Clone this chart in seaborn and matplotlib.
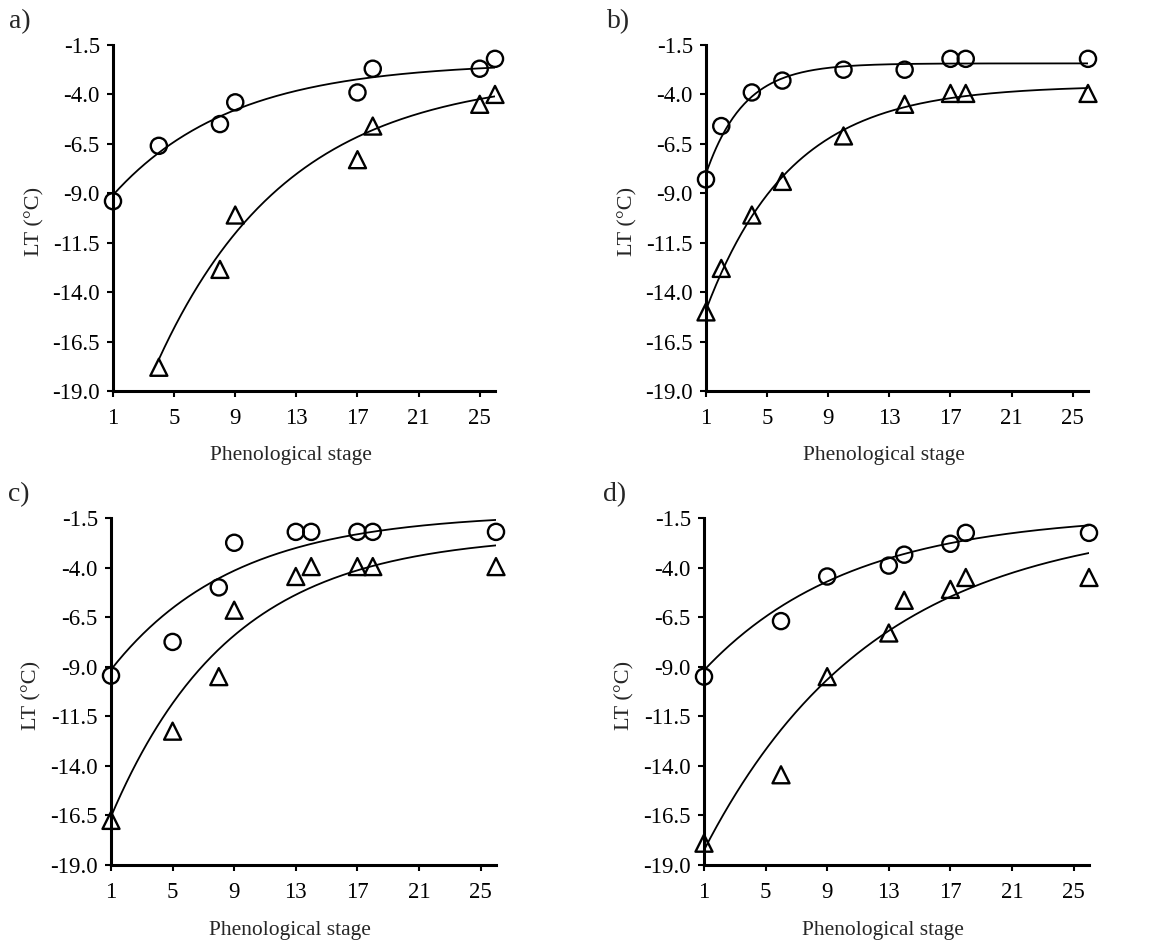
import numpy as np
import matplotlib
matplotlib.use("Agg")
import matplotlib.pyplot as plt
import seaborn as sns

# ---------------- data ----------------
panel_labels = ["a)", "b)", "c)", "d)"]

a_x_circ = [1, 4, 8, 9, 17, 18, 25, 26]
a_y_circ = [-9.4, -6.6, -5.5, -4.4, -3.9, -2.7, -2.7, -2.2]
a_x_tri = [4, 8, 9, 17, 18, 25, 26]
a_y_tri = [-17.8, -12.85, -10.1, -7.3, -5.6, -4.5, -4.0]

b_x_circ = [1, 2, 4, 6, 10, 14, 17, 18, 26]
b_y_circ = [-8.3, -5.6, -3.9, -3.3, -2.75, -2.75, -2.2, -2.2, -2.2]
b_x_tri = [1, 2, 4, 6, 10, 14, 17, 18, 26]
b_y_tri = [-15.0, -12.8, -10.1, -8.4, -6.1, -4.5, -3.95, -3.95, -3.95]

c_x_circ = [1, 5, 8, 9, 13, 14, 17, 18, 26]
c_y_circ = [-9.45, -7.75, -5.0, -2.75, -2.2, -2.2, -2.2, -2.2, -2.2]
c_x_tri = [1, 5, 8, 9, 13, 14, 17, 18, 26]
c_y_tri = [-16.75, -12.25, -9.5, -6.15, -4.45, -3.95, -3.95, -3.95, -3.95]

d_x_circ = [1, 6, 9, 13, 14, 17, 18, 26]
d_y_circ = [-9.5, -6.7, -4.45, -3.9, -3.35, -2.8, -2.25, -2.25]
d_x_tri = [1, 6, 9, 13, 14, 17, 18, 26]
d_y_tri = [-17.9, -14.45, -9.5, -7.3, -5.65, -5.1, -4.5, -4.5]

# fitted curves y = A - B*exp(-k*(x - x0)): (A, B, k, x0)
a_fit_circ = (-2.37, 6.72, 0.128, 1)
a_fit_tri = (-3.0, 14.4, 0.117, 4)
b_fit_circ = (-2.43, 5.58, 0.40, 1)
b_fit_tri = (-3.55, 11.35, 0.18, 1)
c_fit_circ = (-1.25, 7.9, 0.125, 1)
c_fit_tri = (-2.3, 14.26, 0.128, 1)
d_fit_circ = (-1.3, 7.88, 0.105, 1)
d_fit_tri = (-1.5, 16.75, 0.09, 1)

x_ticks = [1, 5, 9, 13, 17, 21, 25]
y_ticks = [-1.5, -4.0, -6.5, -9.0, -11.5, -14.0, -16.5, -19.0]
y_tick_labels = ["-1.5", "-4.0", "-6.5", "-9.0", "-11.5", "-14.0", "-16.5", "-19.0"]
x_label = "Phenological stage"
y_label = "LT (°C)"
x_max = 26

panels = [
    (a_x_circ, a_y_circ, a_x_tri, a_y_tri, a_fit_circ, a_fit_tri),
    (b_x_circ, b_y_circ, b_x_tri, b_y_tri, b_fit_circ, b_fit_tri),
    (c_x_circ, c_y_circ, c_x_tri, c_y_tri, c_fit_circ, c_fit_tri),
    (d_x_circ, d_y_circ, d_x_tri, d_y_tri, d_fit_circ, d_fit_tri),
]

# ---------------- style ----------------
sns.set_style("ticks")
plt.rcParams["font.family"] = ["Liberation Serif", "DejaVu Serif"]
plt.rcParams["axes.unicode_minus"] = False

W, H = 1166, 943
fig = plt.figure(figsize=(W / 100, H / 100), dpi=100)

# axes rectangles in pixels: left, top, right, bottom
rects = [
    (113, 45, 495, 391),
    (706, 45, 1088, 391),
    (111, 518, 496, 865),
    (704, 518, 1089, 865),
]
label_pos = [(9, 9), (607, 9), (8, 482), (603, 482)]


def curve(params):
    A, B, k, x0 = params
    xs = np.linspace(x0, x_max, 300)
    return xs, A - B * np.exp(-k * (xs - x0))


for i, (xc, yc, xt, yt, fc, ft) in enumerate(panels):
    l, t, r, b = rects[i]
    ax = fig.add_axes([l / W, 1 - b / H, (r - l) / W, (b - t) / H])

    for params in (fc, ft):
        xs, ys = curve(params)
        sns.lineplot(x=xs, y=ys, color="black", linewidth=1.3, ax=ax,
                     estimator=None, sort=False)

    sns.scatterplot(x=xc, y=yc, marker="o", s=135, facecolors="none",
                    edgecolor="black", linewidth=1.7, ax=ax, clip_on=False, zorder=5)
    sns.scatterplot(x=xt, y=yt, marker="^", s=150, facecolors="none",
                    edgecolor="black", linewidth=1.7, ax=ax, clip_on=False, zorder=5)

    ax.set_xlim(1, x_max)
    ax.set_ylim(-19.0, -1.5)
    ax.set_xticks(x_ticks)
    ax.set_xticklabels([str(v) for v in x_ticks])
    ax.set_yticks(y_ticks)
    ax.set_yticklabels(y_tick_labels)
    ax.tick_params(axis="both", direction="out", length=4.5, width=1.5,
                   labelsize=16.5, colors="black")
    ax.tick_params(axis="x", pad=8)
    ax.tick_params(axis="y", pad=5)
    sns.despine(ax=ax)
    for s in ("left", "bottom"):
        ax.spines[s].set_linewidth(2.2)
        ax.spines[s].set_color("black")
    ax.set_xlabel(x_label, fontsize=15.5)
    ax.xaxis.set_label_coords(0.466, -0.16)
    ax.set_ylabel(y_label, fontsize=16)
    ax.yaxis.set_label_coords(-0.18, 0.49)
    ax.grid(False)

    fx, fy = label_pos[i]
    fig.text(fx / W, 1 - fy / H, panel_labels[i], fontsize=20,
             ha="left", va="top")

fig.savefig("out.png", dpi=100)
